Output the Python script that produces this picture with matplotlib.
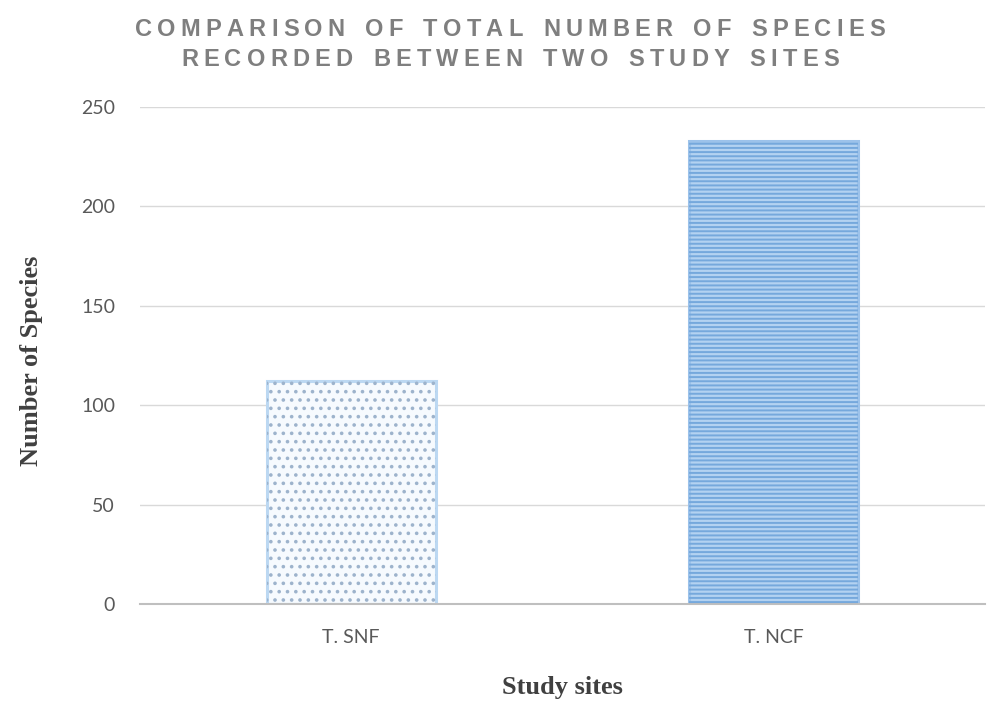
import matplotlib
matplotlib.use("Agg")
import matplotlib.pyplot as plt
import numpy as np
from matplotlib.font_manager import FontProperties

# Data
sites = ["T. SNF", "T. NCF"]
species_counts = [112, 233]
y_ticks = [0, 50, 100, 150, 200, 250]
title_lines = ["COMPARISON OF TOTAL NUMBER OF SPECIES",
               "RECORDED BETWEEN TWO STUDY SITES"]

W, H, DPI = 1000, 714, 100
fig = plt.figure(figsize=(W / DPI, H / DPI), dpi=DPI)
ax = fig.add_axes([0.14, 0.154, 0.845, 0.696])

x = np.arange(len(sites))
bar_w = 0.4

# Gridlines behind bars
ax.set_axisbelow(True)
ax.yaxis.grid(True, color="#d9d9d9", linewidth=1.0)

# Bar faces
face_colors = ["#f6fafe", "#b3d2f1"]
edge_colors = ["#bcd8f2", "#9cc2ea"]
hatch_colors = ["#9db3cc", "#75a8dc"]
hatches = ["..", "----"]

plt.rcParams["hatch.linewidth"] = 1.4
ax.bar(x, species_counts, width=bar_w, color=face_colors,
       edgecolor=edge_colors, linewidth=2.2, zorder=2)
for xi, val, hc, hp in zip(x, species_counts, hatch_colors, hatches):
    ax.bar(xi, val, width=bar_w, facecolor="none", edgecolor=hc,
           linewidth=0, hatch=hp, zorder=3)

ax.set_xlim(-0.5, 1.5)
ax.set_ylim(0, 250)
ax.set_xticks(x)
ax.set_xticklabels(sites)
ax.set_yticks(y_ticks)

tick_font = "Lato"
for lab in ax.get_xticklabels() + ax.get_yticklabels():
    lab.set_fontfamily(tick_font)
    lab.set_fontsize(14)
    lab.set_color("#595959")
ax.tick_params(axis="both", length=0)
ax.tick_params(axis="y", pad=18)
ax.tick_params(axis="x", pad=18)

for side in ["top", "right", "left"]:
    ax.spines[side].set_visible(False)
ax.spines["bottom"].set_color("#bfbfbf")
ax.spines["bottom"].set_linewidth(1.5)

ax.set_xlabel("Study sites", family="Liberation Serif", fontweight="bold",
              fontsize=19, color="#404040", va="center")
ax.xaxis.set_label_coords(0.5, -0.167)
ax.set_ylabel("Number of Species", family="Liberation Serif", fontweight="bold",
              fontsize=19, color="#404040", va="center")
ax.yaxis.set_label_coords(-0.128, 0.49)

# Letter-spaced title, one line at a time
title_size = 17
title_prop = FontProperties(family="Liberation Sans", weight="bold", size=title_size)
renderer = fig.canvas.get_renderer()
size_px = title_size * DPI / 72.0
space_px = 0.42 * size_px
tracking = 5.2


def char_width(ch):
    if ch == " ":
        return space_px
    return renderer.get_text_width_height_descent(ch, title_prop, ismath=False)[0]


def draw_tracked(text, xc_px, yc_px):
    widths = [char_width(c) for c in text]
    total = sum(widths) + tracking * (len(text) - 1)
    xp = xc_px - total / 2.0
    for ch, w in zip(text, widths):
        if ch != " ":
            fig.text(xp / W, 1 - yc_px / H, ch, ha="left", va="center",
                     fontproperties=title_prop, color="#7f7f7f")
        xp += w + tracking


draw_tracked(title_lines[0], 510, 30)
draw_tracked(title_lines[1], 510, 59)

fig.savefig("out.png", dpi=DPI, facecolor="white")
